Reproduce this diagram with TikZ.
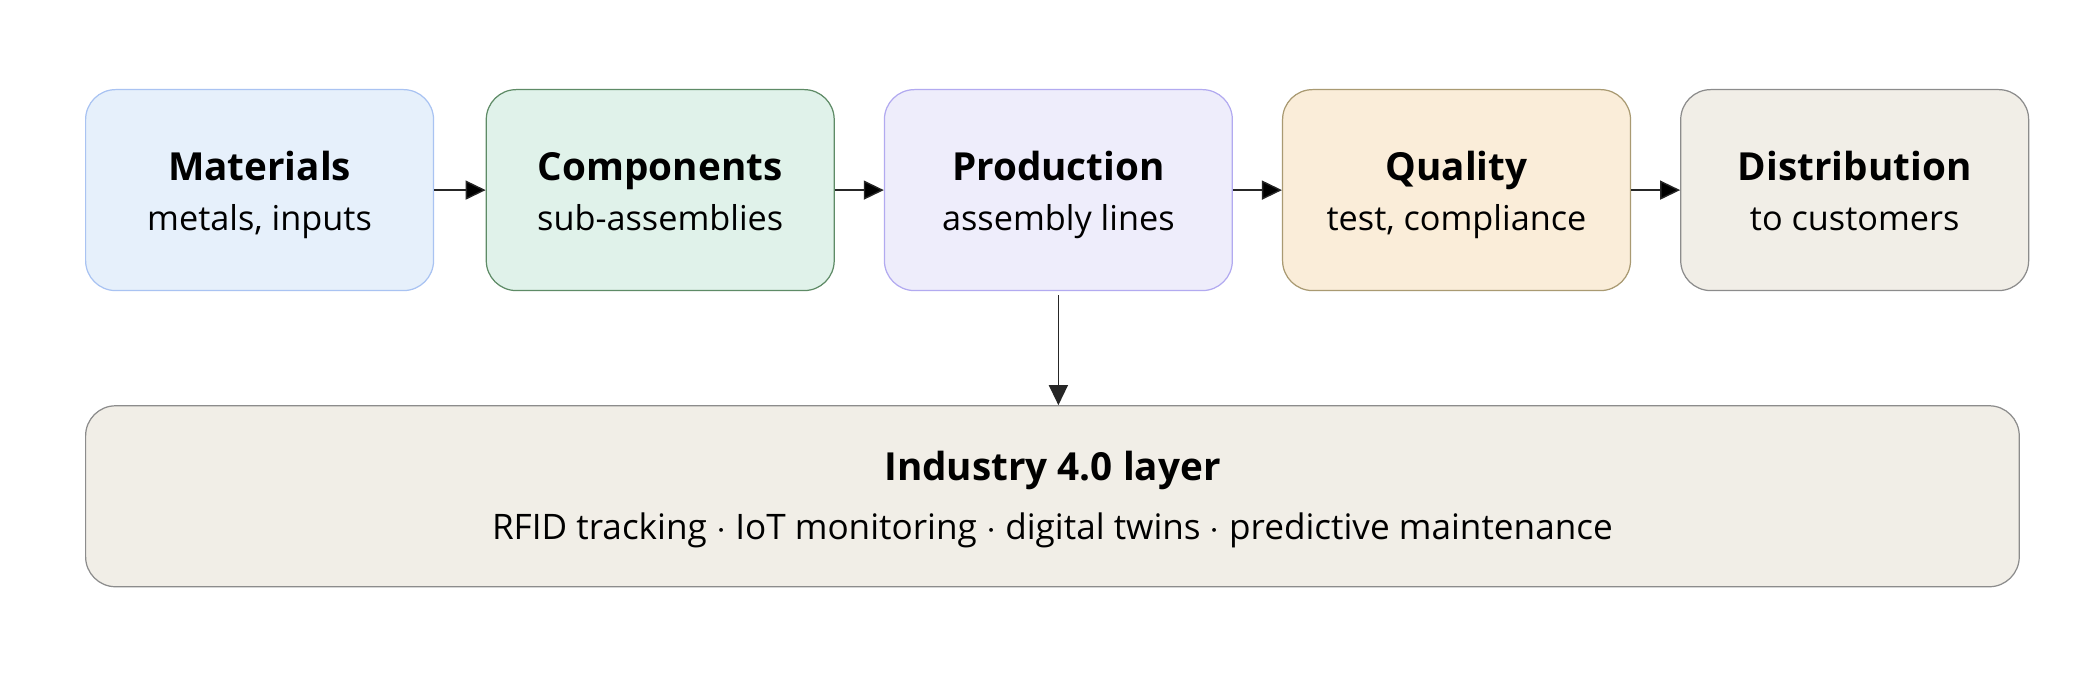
\documentclass[tikz,border=0pt]{standalone}
\usepackage{fontspec}
\setmainfont{Open Sans}
\usepackage{tikz}
\usetikzlibrary{positioning,arrows.meta,calc}
\definecolor{matfill}{HTML}{E6F0FB}
\definecolor{matline}{HTML}{A9C3F2}
\definecolor{compfill}{HTML}{E0F2EA}
\definecolor{compline}{HTML}{5E8B66}
\definecolor{prodfill}{HTML}{EEEDFB}
\definecolor{prodline}{HTML}{B2AAF0}
\definecolor{qualfill}{HTML}{FAEDD9}
\definecolor{qualline}{HTML}{A99A72}
\definecolor{distfill}{HTML}{F1EEE7}
\definecolor{distline}{HTML}{8C8C8C}
\newcommand{\stagetitle}[1]{{\fontsize{22}{27}\selectfont\bfseries\rule[-8pt]{0pt}{34pt}#1}}
\newcommand{\stagenote}[1]{\strut #1}

\begin{document}
\begin{tikzpicture}[x=0.02cm,y=-0.02cm,
  mystage/.style={draw,rounded corners=0.6cm,minimum width=6.96cm,minimum height=4.02cm,align=center,line width=0.7pt,
    font=\fontsize{19.5}{28.3}\selectfont},
  mylayer/.style={draw,rounded corners=0.6cm,minimum width=38.68cm,minimum height=3.62cm,align=center,line width=0.7pt,
    fill=distfill,draw=distline,font=\fontsize{20}{33.9}\selectfont},
  myarrow/.style={-{Triangle[length=0.4cm,width=0.38cm]},line width=0.8pt,draw=black!85},
 ]
\useasboundingbox (0,0) rectangle (2086,696);

\node[mystage, fill=matfill, draw=matline, anchor=north west] (M) at (85,89) {\stagetitle{Materials}\\\stagenote{metals, inputs}};
\node[mystage, fill=compfill, draw=compline, right=1.03cm of M] (C) {\stagetitle{Components}\\\stagenote{sub-assemblies}};
\node[mystage, fill=prodfill, draw=prodline, right=0.98cm of C] (P) {\stagetitle{Production}\\\stagenote{assembly lines}};
\node[mystage, fill=qualfill, draw=qualline, right=0.98cm of P] (Q) {\stagetitle{Quality}\\\stagenote{test, compliance}};
\node[mystage, fill=distfill, draw=distline, right=0.98cm of Q] (D) {\stagetitle{Distribution}\\\stagenote{to customers}};

\node[mylayer, below right=2.28cm and 0cm of M.south west] (L) {\stagetitle{Industry 4.0 layer}\\\stagenote{RFID tracking $\cdot$ IoT monitoring $\cdot$ digital twins $\cdot$ predictive maintenance}};

\path[myarrow]
(M) edge (C)
(C) edge (P)
(P) edge (Q)
(Q) edge (D);

\draw[myarrow] ([yshift=-0.08cm]P.south) -- (P.south |- L.north);

\end{tikzpicture}
\end{document}
